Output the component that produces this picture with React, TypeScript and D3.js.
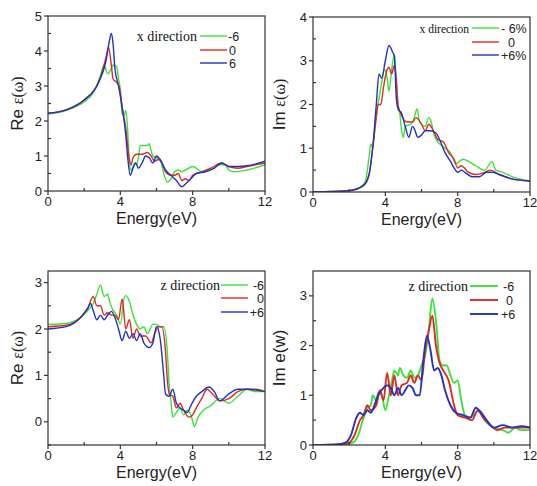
import React from "react";
import * as d3 from "d3";

type Pt = [number, number];

// ---------- Data (Energy eV, value) ----------
const reX_m6: Pt[] = [[0,2.2],[1,2.3],[2,2.55],[2.5,2.8],[2.9,3.3],[3.1,3.6],[3.3,3.35],[3.5,3.5],[3.6,3.6],[3.8,3.55],[3.9,3.2],[4.0,2.9],[4.1,2.2],[4.2,2.15],[4.3,2.3],[4.4,1.8],[4.5,0.8],[4.6,0.6],[4.7,0.7],[4.8,0.8],[4.9,0.75],[5.0,0.95],[5.1,1.3],[5.3,1.3],[5.5,1.3],[5.6,1.35],[5.7,1.15],[5.8,1.0],[6.0,0.95],[6.2,0.9],[6.4,0.5],[6.6,0.25],[6.8,0.35],[7.0,0.55],[7.2,0.6],[7.4,0.55],[7.6,0.6],[8.0,0.7],[8.2,0.65],[8.5,0.55],[9.0,0.6],[9.5,0.75],[9.8,0.75],[10.0,0.6],[10.3,0.55],[11,0.6],[12,0.75]];
const reX_0: Pt[] = [[0,2.22],[1,2.32],[2,2.6],[2.8,3.1],[3.2,3.8],[3.35,4.1],[3.5,3.6],[3.6,3.2],[3.8,3.1],[3.95,2.95],[4.1,2.4],[4.3,1.8],[4.5,0.9],[4.6,0.75],[4.7,0.95],[4.9,1.05],[5.2,1.05],[5.5,1.1],[5.7,1.0],[5.9,0.85],[6.1,0.9],[6.3,0.8],[6.5,0.55],[6.8,0.45],[7.0,0.45],[7.2,0.5],[7.4,0.3],[7.6,0.35],[7.8,0.3],[8.0,0.45],[8.5,0.55],[9.0,0.65],[9.6,0.8],[10.0,0.7],[10.5,0.65],[11,0.7],[12,0.8]];
const reX_p6: Pt[] = [[0,2.22],[1,2.32],[2,2.6],[2.8,3.1],[3.2,3.7],[3.4,4.3],[3.5,4.5],[3.6,4.2],[3.7,3.5],[3.9,3.0],[4.1,2.4],[4.3,1.6],[4.4,1.0],[4.55,0.45],[4.7,0.65],[4.85,0.8],[5.0,0.65],[5.2,0.8],[5.4,1.0],[5.6,0.95],[5.8,0.8],[6.0,1.0],[6.2,0.9],[6.5,0.6],[6.8,0.45],[7.1,0.3],[7.4,0.12],[7.6,0.2],[7.9,0.35],[8.2,0.5],[8.7,0.55],[9.2,0.65],[9.6,0.8],[10.0,0.7],[10.5,0.7],[11,0.72],[12,0.85]];

const imX_m6: Pt[] = [[0,0],[2,0.03],[2.6,0.1],[2.9,0.25],[3.1,0.8],[3.2,1.1],[3.3,1.0],[3.45,1.6],[3.6,2.0],[3.8,2.5],[3.95,2.8],[4.1,2.6],[4.2,2.3],[4.35,2.8],[4.5,3.15],[4.6,2.6],[4.7,2.0],[4.8,1.8],[4.9,1.4],[5.0,1.25],[5.1,1.5],[5.4,1.55],[5.6,1.7],[5.75,1.9],[5.9,1.6],[6.2,1.5],[6.4,1.7],[6.5,1.65],[6.7,1.3],[7.0,1.1],[7.3,1.0],[7.6,0.9],[7.9,0.65],[8.3,0.75],[8.6,0.7],[9.0,0.6],[9.5,0.5],[9.9,0.7],[10.1,0.5],[10.5,0.45],[11,0.35],[12,0.25]];
const imX_0: Pt[] = [[0,0],[2,0.03],[2.8,0.15],[3.1,0.4],[3.3,1.0],[3.5,1.7],[3.6,2.0],[3.75,2.0],[3.9,2.4],[4.1,2.8],[4.2,2.85],[4.35,2.7],[4.5,2.9],[4.6,2.6],[4.7,2.0],[4.9,1.75],[5.2,1.6],[5.5,1.6],[5.7,1.7],[6.0,1.55],[6.2,1.4],[6.4,1.55],[6.6,1.45],[6.9,1.2],[7.2,1.15],[7.5,0.9],[7.8,0.75],[8.0,0.55],[8.2,0.6],[8.6,0.45],[9.0,0.4],[9.5,0.45],[9.8,0.5],[10.3,0.4],[11,0.3],[12,0.25]];
const imX_p6: Pt[] = [[0,0],[2,0.03],[2.8,0.15],[3.1,0.4],[3.3,1.0],[3.5,2.0],[3.65,2.7],[3.8,2.6],[4.0,3.0],[4.2,3.35],[4.4,3.2],[4.5,3.1],[4.6,2.2],[4.7,1.9],[4.9,1.8],[5.1,1.5],[5.3,1.25],[5.5,1.5],[5.6,1.45],[5.8,1.25],[6.0,1.3],[6.2,1.4],[6.5,1.4],[6.8,1.35],[7.0,1.2],[7.3,0.9],[7.6,0.7],[7.8,0.55],[8.0,0.45],[8.2,0.5],[8.4,0.45],[8.8,0.35],[9.2,0.35],[9.6,0.45],[9.9,0.45],[10.3,0.4],[11,0.3],[12,0.25]];

const reZ_m6: Pt[] = [[0,2.1],[1,2.12],[1.8,2.25],[2.2,2.4],[2.5,2.55],[2.7,2.75],[2.9,2.95],[3.1,2.7],[3.3,2.75],[3.4,2.6],[3.6,2.4],[3.8,2.3],[4.0,2.1],[4.2,2.65],[4.3,2.72],[4.5,2.6],[4.7,2.3],[4.9,2.1],[5.1,2.0],[5.3,2.05],[5.5,1.9],[5.8,2.1],[6.0,2.1],[6.2,2.05],[6.4,2.05],[6.6,1.5],[6.7,0.8],[6.8,0.45],[6.9,0.1],[7.1,0.2],[7.3,0.3],[7.5,0.15],[7.7,0.25],[7.9,0.15],[8.1,-0.1],[8.3,0.1],[8.6,0.25],[9.0,0.35],[9.5,0.5],[10.0,0.4],[10.5,0.55],[11,0.7],[11.5,0.65],[12,0.65]];
const reZ_0: Pt[] = [[0,2.05],[1,2.08],[1.8,2.25],[2.2,2.45],[2.5,2.7],[2.7,2.5],[2.9,2.5],[3.1,2.3],[3.3,2.35],[3.5,2.3],[3.7,2.3],[3.9,2.2],[4.1,2.65],[4.3,2.0],[4.5,2.2],[4.7,1.8],[4.9,2.0],[5.1,1.85],[5.4,1.85],[5.7,1.7],[5.9,1.9],[6.1,2.05],[6.3,2.05],[6.5,1.5],[6.6,0.9],[6.7,0.6],[6.9,0.55],[7.1,0.3],[7.3,0.4],[7.5,0.25],[7.8,0.1],[8.0,0.15],[8.2,0.3],[8.5,0.5],[8.8,0.7],[9.1,0.6],[9.5,0.45],[10,0.5],[10.5,0.65],[11,0.7],[11.5,0.7],[12,0.65]];
const reZ_p6: Pt[] = [[0,2.0],[1,2.05],[1.8,2.25],[2.2,2.45],[2.35,2.55],[2.5,2.4],[2.7,2.2],[2.9,2.3],[3.1,2.2],[3.3,2.3],[3.5,2.38],[3.7,2.25],[3.9,2.0],[4.1,1.75],[4.3,1.95],[4.5,1.8],[4.7,1.9],[4.9,1.75],[5.1,1.9],[5.3,1.7],[5.6,1.6],[5.8,1.7],[6.0,2.05],[6.2,1.8],[6.4,1.0],[6.5,0.6],[6.7,0.55],[6.9,0.7],[7.1,0.4],[7.3,0.3],[7.5,0.25],[7.7,0.2],[7.9,0.35],[8.2,0.55],[8.5,0.65],[8.9,0.75],[9.2,0.65],[9.5,0.45],[10,0.6],[10.5,0.7],[11,0.7],[12,0.65]];

const imZ_m6: Pt[] = [[0,0],[1.5,0.01],[2.2,0.05],[2.5,0.2],[2.8,0.55],[3.0,0.75],[3.2,0.8],[3.3,1.0],[3.5,0.9],[3.6,1.05],[3.8,1.0],[4.0,0.7],[4.2,1.0],[4.4,1.35],[4.5,1.5],[4.7,1.4],[4.8,1.55],[5.0,1.4],[5.2,1.35],[5.4,1.5],[5.6,1.35],[5.8,1.4],[6.0,1.6],[6.2,1.8],[6.4,2.3],[6.6,2.95],[6.8,2.5],[7.0,1.7],[7.2,1.6],[7.4,1.6],[7.6,1.4],[7.8,1.25],[8.0,1.3],[8.2,0.9],[8.4,0.6],[8.7,0.55],[9.0,0.65],[9.2,0.7],[9.5,0.5],[10.0,0.35],[10.5,0.3],[10.8,0.25],[11.2,0.35],[11.5,0.3],[12,0.3]];
const imZ_0: Pt[] = [[0,0],[1.5,0.01],[2.0,0.05],[2.3,0.2],[2.6,0.5],[2.8,0.6],[3.0,0.8],[3.2,0.7],[3.5,0.8],[3.7,1.1],[3.9,0.9],[4.1,1.45],[4.3,1.0],[4.5,1.4],[4.7,1.0],[4.9,1.2],[5.2,1.25],[5.4,1.4],[5.6,1.25],[5.8,1.4],[6.0,1.3],[6.2,1.9],[6.4,2.3],[6.6,2.6],[6.8,2.0],[7.0,1.65],[7.2,1.5],[7.5,1.3],[7.8,0.8],[8.0,0.6],[8.4,0.55],[8.8,0.5],[9.1,0.7],[9.4,0.55],[9.8,0.4],[10.2,0.3],[10.6,0.35],[11,0.35],[11.5,0.35],[12,0.35]];
const imZ_p6: Pt[] = [[0,0],[1.3,0.01],[1.8,0.05],[2.1,0.2],[2.4,0.55],[2.6,0.65],[2.8,0.6],[3.0,0.7],[3.2,0.65],[3.4,0.8],[3.6,1.0],[3.9,1.15],[4.1,1.2],[4.3,1.15],[4.5,1.0],[4.7,1.15],[4.9,1.0],[5.1,1.1],[5.3,1.2],[5.5,1.15],[5.7,1.0],[5.9,1.0],[6.1,1.7],[6.3,2.2],[6.5,1.9],[6.7,1.5],[6.9,1.55],[7.1,1.4],[7.3,1.1],[7.6,0.8],[7.9,0.65],[8.3,0.6],[8.7,0.55],[9.0,0.75],[9.3,0.65],[9.6,0.5],[10.0,0.35],[10.5,0.4],[11,0.35],[11.5,0.38],[12,0.35]];

const xTicksMajor = [0, 4, 8, 12];
const xTicksMinor = [2, 6, 10];
const xLabel = "Energy(eV)";

const legendX = ["-6", "0", "6"];
const legendXpct = ["- 6%", "0", "+6%"];
const legendZ = ["-6", "0", "+6"];

const colors = ["#3ee03a", "#e02a22", "#2233c0"];

interface Panel {
  x0: number; x1: number; y0: number; y1: number;
  yDomain: [number, number];
  yMajor: number[]; yMinor: number[];
  series: Pt[][];
  yl: { pre: string; main: string; x: number };
  legend: { title: string; titleEnd: number; titleSize: number; lineX0: number; lineX1: number; rows: number[]; labels: string[]; labelX: number[]; anchor: string; labelSize: number };
  sw: number;
}

const panels: Panel[] = [
  {
    x0: 48, x1: 265, y0: 16, y1: 191, yDomain: [0, 5],
    yMajor: [0, 1, 2, 3, 4, 5], yMinor: [0.5, 1.5, 2.5, 3.5, 4.5],
    series: [reX_m6, reX_0, reX_p6],
    yl: { pre: "Re ", main: "ε(ω)", x: 23 },
    legend: { title: "x direction", titleEnd: 197, titleSize: 14, lineX0: 200, lineX1: 227, rows: [36, 50, 63], labels: legendX, labelX: [228, 229, 229], anchor: "start", labelSize: 12.5 },
    sw: 1.4,
  },
  {
    x0: 313, x1: 530, y0: 17, y1: 192, yDomain: [0, 4],
    yMajor: [0, 1, 2, 3, 4], yMinor: [0.5, 1.5, 2.5, 3.5],
    series: [imX_m6, imX_0, imX_p6],
    yl: { pre: "Im ", main: "ε(ω)", x: 285 },
    legend: { title: "x direction", titleEnd: 469, titleSize: 11.5, lineX0: 472, lineX1: 499, rows: [28, 42, 55], labels: legendXpct, labelX: [501, 508, 501], anchor: "start", labelSize: 12.5 },
    sw: 1.4,
  },
  {
    x0: 48, x1: 265, y0: 271, y1: 445, yDomain: [-0.5, 3.25],
    yMajor: [0, 1, 2, 3], yMinor: [-0.5, 0.5, 1.5, 2.5],
    series: [reZ_m6, reZ_0, reZ_p6],
    yl: { pre: "Re ", main: "ε(ω)", x: 23 },
    legend: { title: "z direction", titleEnd: 220, titleSize: 14, lineX0: 221, lineX1: 248, rows: [285, 298, 312], labels: legendZ, labelX: [264, 264, 264], anchor: "end", labelSize: 12.5 },
    sw: 1.4,
  },
  {
    x0: 313, x1: 530, y0: 271, y1: 445, yDomain: [0, 3.5],
    yMajor: [0, 1, 2, 3], yMinor: [0.5, 1.5, 2.5],
    series: [imZ_m6, imZ_0, imZ_p6],
    yl: { pre: "Im e(w)", main: "", x: 285 },
    legend: { title: "z direction", titleEnd: 468, titleSize: 14, lineX0: 470, lineX1: 498, rows: [286, 300, 314], labels: legendZ, labelX: [503, 506, 501], anchor: "start", labelSize: 12.5 },
    sw: 1.9,
  },
];

const SANS = "'Liberation Sans', Arial, sans-serif";
const SERIF = "'Liberation Serif', 'Times New Roman', serif";
const AX = "#333";

function PanelView({ p }: { p: Panel }) {
  const x = d3.scaleLinear().domain([0, 12]).range([p.x0, p.x1]);
  const y = d3.scaleLinear().domain(p.yDomain).range([p.y1, p.y0]);
  const line = d3.line<Pt>().x(d => x(d[0])).y(d => y(d[1])).curve(d3.curveMonotoneX);
  const clipId = `clip-${p.x0}-${p.y0}`;
  const yMid = (p.y0 + p.y1) / 2;
  return (
    <g>
      <defs>
        <clipPath id={clipId}>
          <rect x={p.x0} y={p.y0} width={p.x1 - p.x0} height={p.y1 - p.y0} />
        </clipPath>
      </defs>
      <g clipPath={`url(#${clipId})`}>
        {p.series.map((s, i) => (
          <path key={i} d={line(s) || ""} fill="none" stroke={colors[i]} strokeWidth={p.sw} strokeLinejoin="round" />
        ))}
      </g>
      <rect x={p.x0} y={p.y0} width={p.x1 - p.x0} height={p.y1 - p.y0} fill="none" stroke={AX} strokeWidth={1.2} />
      {xTicksMajor.map(t => (
        <g key={"xm" + t}>
          <line x1={x(t)} x2={x(t)} y1={p.y1} y2={p.y1 + 4} stroke={AX} strokeWidth={1.2} />
          <text x={x(t)} y={p.y1 + 15} textAnchor="middle" fontFamily={SANS} fontSize={13} fill="#222">{t}</text>
        </g>
      ))}
      {xTicksMinor.map(t => (
        <line key={"xn" + t} x1={x(t)} x2={x(t)} y1={p.y1} y2={p.y1 - 3} stroke={AX} strokeWidth={1.2} />
      ))}
      {p.yMajor.map(t => (
        <g key={"ym" + t}>
          <line x1={p.x0 - 4} x2={p.x0} y1={y(t)} y2={y(t)} stroke={AX} strokeWidth={1.2} />
          <text x={p.x0 - 6} y={y(t) + 4.5} textAnchor="end" fontFamily={SANS} fontSize={13} fill="#222">{t}</text>
        </g>
      ))}
      {p.yMinor.map(t => (
        <line key={"yn" + t} x1={p.x0} x2={p.x0 + 3} y1={y(t)} y2={y(t)} stroke={AX} strokeWidth={1.2} />
      ))}
      <text x={(p.x0 + p.x1) / 2} y={p.y1 + 33} textAnchor="middle" fontFamily={SANS} fontSize={16} fill="#222">{xLabel}</text>
      <text transform={`translate(${p.yl.x},${yMid}) rotate(-90)`} textAnchor="middle" fontFamily={SANS} fontSize={17} fill="#222">
        {p.yl.pre}
        {p.yl.main && <tspan fontFamily={SERIF} fontSize={16}>{p.yl.main}</tspan>}
      </text>
      <text x={p.legend.titleEnd} y={p.legend.rows[0] + 4.5} textAnchor="end" fontFamily={SERIF} fontSize={p.legend.titleSize} fill="#111">{p.legend.title}</text>
      {p.legend.rows.map((r, i) => (
        <g key={"lg" + i}>
          <line x1={p.legend.lineX0} x2={p.legend.lineX1} y1={r} y2={r} stroke={colors[i]} strokeWidth={p.sw} />
          <text x={p.legend.labelX[i]} y={r + 4.5} textAnchor={p.legend.anchor as any} fontFamily={SANS} fontSize={p.legend.labelSize} fill="#222">{p.legend.labels[i]}</text>
        </g>
      ))}
    </g>
  );
}

export default function App() {
  return (
    <svg width={537} height={486} style={{ position: "absolute", left: 0, top: 0, background: "#fff" }}>
      <rect width={537} height={486} fill="#fff" />
      {panels.map((p, i) => <PanelView key={i} p={p} />)}
    </svg>
  );
}
